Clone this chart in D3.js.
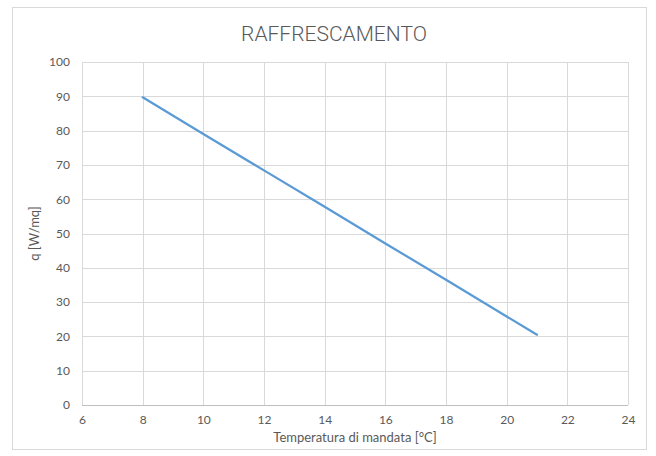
<!DOCTYPE html>
<html>
<head>
<meta charset="utf-8">
<script src="https://cdn.jsdelivr.net/npm/d3@7"></script>
<style>
  html, body { margin: 0; padding: 0; background: #fff; }
  svg { display: block; }
</style>
</head>
<body>
<svg id="chart" width="656" height="456"></svg>
<script>
// Cooling output vs. supply temperature
const temperature = [8, 10, 12, 14, 16, 18, 20, 21];
const output = [89.7, 79.0, 68.4, 57.8, 47.1, 36.5, 25.8, 20.5];
const xTicks = [6, 8, 10, 12, 14, 16, 18, 20, 22, 24];
const yTicks = [0, 10, 20, 30, 40, 50, 60, 70, 80, 90, 100];

const svg = d3.select("#chart");
const plot = { left: 82, right: 628, top: 62, bottom: 405 };
const labelFont = "Lato, 'Open Sans', sans-serif";
const textColor = "#595959";

// chart frame
svg.append("rect")
  .attr("x", 12.5).attr("y", 7.5)
  .attr("width", 634).attr("height", 442)
  .attr("fill", "#fff").attr("stroke", "#d9d9d9").attr("stroke-width", 1);

const x = d3.scaleLinear().domain([6, 24]).range([plot.left, plot.right]);
const y = d3.scaleLinear().domain([0, 100]).range([plot.bottom, plot.top]);

// gridlines
const grid = svg.append("g").attr("stroke", "#d9d9d9").attr("stroke-width", 1);
grid.selectAll("line.v").data(xTicks).join("line")
  .attr("class", "v")
  .attr("x1", d => Math.round(x(d)) + 0.5).attr("x2", d => Math.round(x(d)) + 0.5)
  .attr("y1", plot.top).attr("y2", plot.bottom);
grid.selectAll("line.h").data(yTicks).join("line")
  .attr("class", "h")
  .attr("x1", plot.left).attr("x2", plot.right)
  .attr("y1", d => Math.round(y(d)) + 0.5).attr("y2", d => Math.round(y(d)) + 0.5);

// axes
const xAxis = d3.axisBottom(x).tickValues(xTicks).tickSize(0).tickPadding(10);
const yAxis = d3.axisLeft(y).tickValues(yTicks).tickSize(0).tickPadding(12);

const gx = svg.append("g").attr("transform", `translate(0,${plot.bottom})`).call(xAxis);
const gy = svg.append("g").attr("transform", `translate(${plot.left},0)`).call(yAxis);
[gx, gy].forEach(g => {
  g.select(".domain").remove();
  g.selectAll("text")
    .attr("fill", textColor)
    .style("font-family", labelFont)
    .style("font-size", "12px");
});
// x baseline
svg.append("line")
  .attr("x1", plot.left).attr("x2", plot.right)
  .attr("y1", plot.bottom + 0.5).attr("y2", plot.bottom + 0.5)
  .attr("stroke", "#bfbfbf");

// data line
const line = d3.line().x((d, i) => x(temperature[i])).y(d => y(d));
svg.append("path")
  .datum(output)
  .attr("d", line)
  .attr("fill", "none")
  .attr("stroke", "#5b9bd5")
  .attr("stroke-width", 2.25)
  .attr("stroke-linecap", "round");

// titles
svg.append("text")
  .attr("x", 334).attr("y", 41)
  .attr("text-anchor", "middle")
  .attr("fill", textColor)
  .style("font-family", "Roboto, sans-serif")
  .style("font-weight", 300)
  .style("font-size", "21px")
  .text("RAFFRESCAMENTO");

svg.append("text")
  .attr("x", (plot.left + plot.right) / 2).attr("y", 442)
  .attr("text-anchor", "middle")
  .attr("fill", textColor)
  .style("font-family", labelFont)
  .style("font-size", "13px")
  .text("Temperatura di mandata [°C]");

svg.append("text")
  .attr("transform", `translate(39,${(plot.top + plot.bottom) / 2}) rotate(-90)`)
  .attr("text-anchor", "middle")
  .attr("fill", textColor)
  .style("font-family", labelFont)
  .style("font-size", "13px")
  .text("q [W/mq]");
</script>
</body>
</html>
